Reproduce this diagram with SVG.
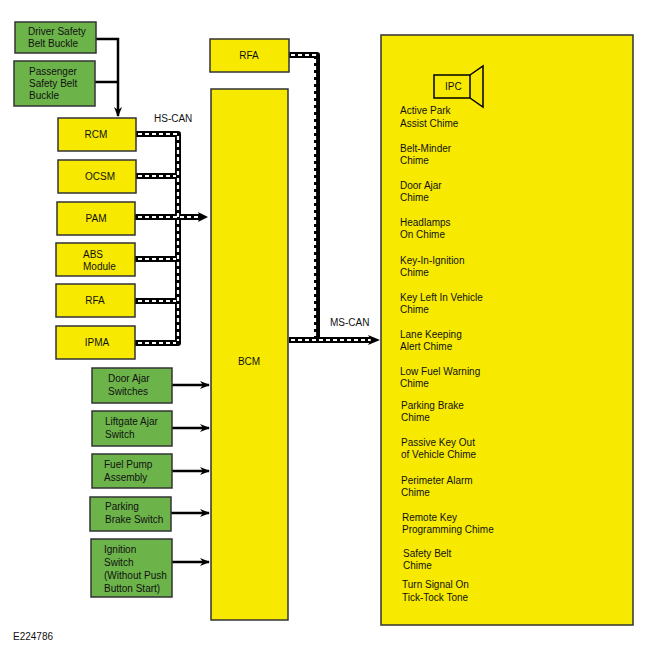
<svg xmlns="http://www.w3.org/2000/svg" width="650" height="650" viewBox="0 0 650 650">
<defs>
<style>
.g{fill:#6cb44a;stroke:#333;stroke-width:1.5}
.y{fill:#f7ea00;stroke:#333;stroke-width:1.5}
text{font-family:"Liberation Sans",Arial,sans-serif;font-size:10px;fill:#111}
.c{text-anchor:middle}
.busb{fill:none;stroke:#000;stroke-width:6;stroke-linejoin:round}
.busw{fill:none;stroke:#fff;stroke-width:2.2;stroke-dasharray:4,3}
.ln{fill:none;stroke:#000;stroke-width:2.5}
</style>
<marker id="ah" markerWidth="10" markerHeight="8" refX="9" refY="4" orient="auto" markerUnits="userSpaceOnUse"><path d="M0,0 L10,4 L0,8 L3,4 Z" fill="#000"/></marker>
</defs>
<rect width="650" height="650" fill="#fff"/>
<g id="connectors">
<path class="ln" d="M96,39 H118 V116" marker-end="url(#ah)"/>
<path class="ln" d="M95,82 H118"/>
<path class="busb" d="M136,134 H178 V343 H135 M136,176 H178 M135,217 H200 M135,259 H178 M135,301 H178"/>
<path class="busw" d="M138,134 H178 V341 M138,176 H176 M138,217 H200 M138,259 H176 M138,301 H176 M138,343 H176"/>
<path d="M198,212 L208,217 L198,222 L200,217 Z" fill="#000"/>
<path class="busb" d="M289,55 H317 V340 M289,340 H370"/>
<path class="busw" d="M291,55 H315 V338 M291,340 H370"/>
<path d="M368,335 L380,340 L368,345 L371,340 Z" fill="#000"/>
<path class="ln" d="M172,385 H209" marker-end="url(#ah)"/>
<path class="ln" d="M172,428 H209" marker-end="url(#ah)"/>
<path class="ln" d="M172,471 H209" marker-end="url(#ah)"/>
<path class="ln" d="M171,513 H209" marker-end="url(#ah)"/>
<path class="ln" d="M172,562 H209" marker-end="url(#ah)"/>
<text x="154" y="122">HS-CAN</text>
<text x="330" y="326">MS-CAN</text>
</g>
<g id="driver"><rect class="g" x="15" y="22" width="81" height="31"/><text x="28" y="35">Driver Safety</text><text x="28" y="47">Belt Buckle</text></g>
<g id="passenger"><rect class="g" x="14" y="61" width="81" height="45"/><text x="29" y="75">Passenger</text><text x="29" y="87">Safety Belt</text><text x="29" y="99">Buckle</text></g>
<g id="rcm"><rect class="y" x="58" y="118" width="78" height="33"/><text class="c" x="96" y="138">RCM</text></g>
<g id="ocsm"><rect class="y" x="58" y="160" width="78" height="33"/><text class="c" x="100" y="180">OCSM</text></g>
<g id="pam"><rect class="y" x="57" y="202" width="78" height="33"/><text class="c" x="96" y="222">PAM</text></g>
<g id="abs"><rect class="y" x="56" y="243" width="79" height="33"/><text x="83" y="258">ABS</text><text x="83" y="270">Module</text></g>
<g id="rfa1"><rect class="y" x="56" y="284" width="79" height="33"/><text class="c" x="95" y="304">RFA</text></g>
<g id="ipma"><rect class="y" x="56" y="326" width="79" height="33"/><text class="c" x="97" y="346">IPMA</text></g>
<g id="rfa2"><rect class="y" x="210" y="39" width="79" height="33"/><text class="c" x="249" y="59">RFA</text></g>
<g id="bcm"><rect class="y" x="211" y="89" width="77" height="531"/><text class="c" x="249" y="365">BCM</text></g>
<g id="door"><rect class="g" x="92" y="368" width="80" height="35"/><text x="108" y="382">Door Ajar</text><text x="108" y="395">Switches</text></g>
<g id="liftgate"><rect class="g" x="92" y="411" width="80" height="35"/><text x="105" y="425">Liftgate Ajar</text><text x="105" y="438">Switch</text></g>
<g id="fuel"><rect class="g" x="92" y="454" width="80" height="34"/><text x="104" y="468">Fuel Pump</text><text x="104" y="481">Assembly</text></g>
<g id="parking"><rect class="g" x="90" y="497" width="81" height="34"/><text x="105" y="510">Parking</text><text x="105" y="523">Brake Switch</text></g>
<g id="ignition"><rect class="g" x="91" y="539" width="81" height="58"/><text x="104" y="553">Ignition</text><text x="104" y="566">Switch</text><text x="104" y="579">(Without Push</text><text x="104" y="592">Button Start)</text></g>
<g id="ipc">
<rect class="y" x="381" y="35" width="252" height="590"/>
<rect x="434" y="75" width="36" height="23" fill="none" stroke="#000" stroke-width="1.5"/>
<path d="M470,75 L483,66 L483,107 L470,98" fill="none" stroke="#000" stroke-width="1.5"/>
<text x="445" y="90">IPC</text>
<text x="400" y="114">Active Park</text><text x="400" y="127">Assist Chime</text>
<text x="400" y="152">Belt-Minder</text><text x="400" y="164">Chime</text>
<text x="400" y="189">Door Ajar</text><text x="400" y="201">Chime</text>
<text x="400" y="226">Headlamps</text><text x="400" y="238">On Chime</text>
<text x="400" y="264">Key-In-Ignition</text><text x="400" y="276">Chime</text>
<text x="400" y="301">Key Left In Vehicle</text><text x="400" y="313">Chime</text>
<text x="400" y="338">Lane Keeping</text><text x="400" y="350">Alert Chime</text>
<text x="400" y="375">Low Fuel Warning</text><text x="400" y="387">Chime</text>
<text x="401" y="409">Parking Brake</text><text x="401" y="421">Chime</text>
<text x="401" y="446">Passive Key Out</text><text x="401" y="458">of Vehicle Chime</text>
<text x="401" y="484">Perimeter Alarm</text><text x="401" y="496">Chime</text>
<text x="402" y="521">Remote Key</text><text x="402" y="533">Programming Chime</text>
<text x="403" y="557">Safety Belt</text><text x="403" y="569">Chime</text>
<text x="402" y="588">Turn Signal On</text><text x="402" y="601">Tick-Tock Tone</text>
</g>
<text x="13" y="640">E224786</text>
</svg>
